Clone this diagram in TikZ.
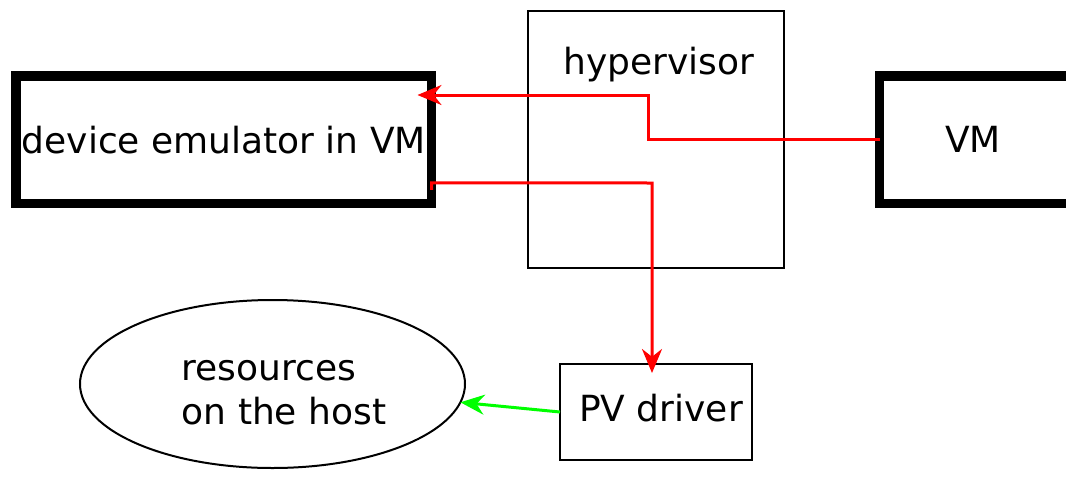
\documentclass[tikz,border=0pt]{standalone}
\usepackage{fontspec}
\setmainfont{DejaVu Sans}
\usepackage{tikz}
\usetikzlibrary{arrows.meta,shapes.geometric}

\tikzset{
    thickbox/.style={draw, line width=4.75pt, inner sep=0pt, outer sep=0pt},
    thinbox/.style={draw, line width=1pt, inner sep=0pt, outer sep=0pt},
    redarrow/.style={draw=red, line width=1.5pt, -{Stealth[length=12pt,width=10pt]}},
    greenarrow/.style={draw=green, line width=1.5pt, -{Stealth[length=12pt,width=10pt]}}
}

\begin{document}
\begin{tikzpicture}[x=0.5pt, y=-0.5pt, font=\fontsize{18}{22}\selectfont]
        \useasboundingbox (0,0) rectangle (1066,488);
        \clip (0,0) rectangle (1066,488);

        % The hypervisor box
        \node[thinbox, minimum width=128pt, minimum height=128.5pt] (hyp) at (656,139.5) {};
        \node (hyptext) at (659,65) {hypervisor};

        % The thick boxes
        \node[thickbox, minimum width=207.75pt, minimum height=63.75pt] (dev) at (223.75,139.75) {device emulator in VM};
        \node[thickbox, minimum width=110pt, minimum height=63.75pt] (vm) at (989.5,139.75) {};
        \node (vmtext) at (973,139) {VM};

        % The driver box
        \node[thinbox, minimum width=96pt, minimum height=48pt] (pv) at (656,412) {};
        \node (pvtext) at (661,408) {PV driver};

        % The host resources
        \node[ellipse, draw, line width=1pt, inner sep=0pt, outer sep=0pt, minimum width=192.5pt, minimum height=84pt] (res) at (272.5,384) {};
        \node[align=left] (restext) at (284,393) {resources\\on the host};

        % Red edges
        \coordinate (bend1) at (648,95);
        \coordinate (bend2) at (652,183);
        \draw[redarrow, shorten >=-7pt] (vm.west) -| (bend1) -- (bend1 -| dev.east);
        \draw[redarrow, shorten >=-4.5pt] ([yshift=-25pt]dev.east) -- ([yshift=-21.5pt]dev.east) -- (bend2) -- (bend2 |- pv.north);

        % Green edge
        \draw[greenarrow] (pv.west) -- (res);

    \end{tikzpicture}
\end{document}
